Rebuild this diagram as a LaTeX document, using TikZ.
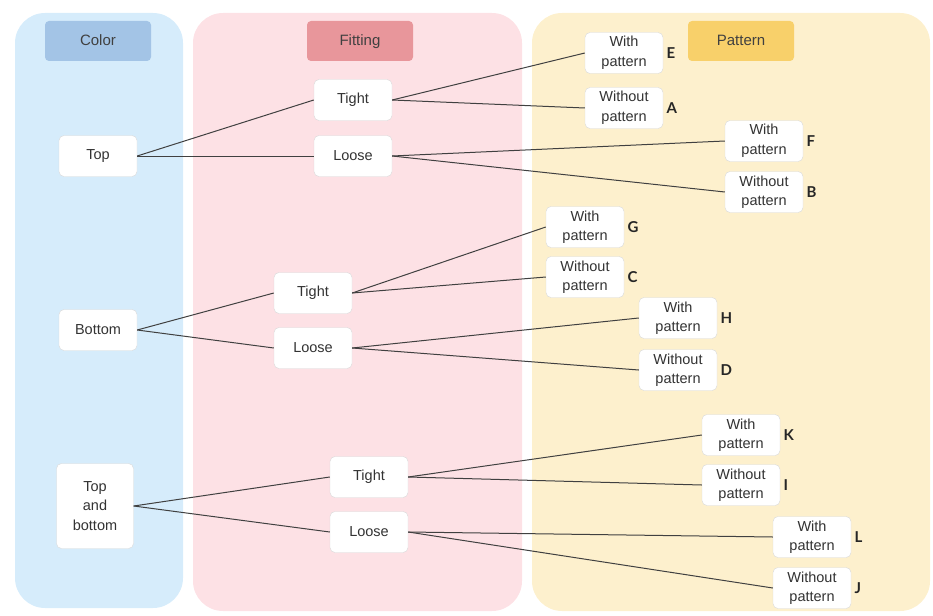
\documentclass[tikz,border=0pt]{standalone}
\usepackage{fontspec}
\setmainfont{Liberation Sans}
\newfontfamily\lblfont{Lato}
\definecolor{colbg}{RGB}{214,236,251}
\definecolor{fitbg}{RGB}{253,225,229}
\definecolor{patbg}{RGB}{253,240,205}
\definecolor{colhd}{RGB}{163,196,230}
\definecolor{fithd}{RGB}{232,150,155}
\definecolor{pathd}{RGB}{248,208,106}

\begin{document}
\begin{tikzpicture}[
  x=1pt, y=-1pt,
  pnl/.style={rounded corners=30pt},
  hdr/.style={rounded corners=4pt, minimum width=106pt, minimum height=40pt,
    text height=10pt, text depth=0pt,
    font=\fontsize{15}{18}\selectfont, text=black!75},
  opt/.style={draw=black!15, fill=white, rounded corners=5pt, minimum width=78pt,
    minimum height=41pt, align=center, inner sep=2pt,
    font=\fontsize{14.5}{19.5}\selectfont, text=black!80},
  pat/.style={opt, label={[label distance=0pt, text=black!85,
    font=\lblfont\bfseries\fontsize{15}{18}\selectfont]right:#1}},
  lnk/.style={draw=black!75, line width=1pt}
]

\useasboundingbox (0,0) rectangle (933,615);

\fill [colbg, pnl] (15,13) rectangle (183,608);
\fill [fitbg, pnl] (193,13) rectangle (522,611);
\fill [patbg, pnl] (532,13) rectangle (930,611);

\node [hdr, fill=colhd] (hcol) at (98,41) {Color};
\node [hdr, fill=fithd] (hfit) at (360,41) {Fitting};
\node [hdr, fill=pathd] (hpat) at (741,41) {Pattern};

\node [opt] (top) at (98,156) {Top};
\node [opt] (bot) at (98,330) {Bottom};
\node [opt, minimum width=77pt, minimum height=85pt] (tab) at (95,506) {Top\\and\\bottom};

\node [opt] (t1) at (353,100) {Tight};
\node [opt] (l1) at (353,156) {Loose};
\node [opt] (t2) at (313,293) {Tight};
\node [opt] (l2) at (313,348) {Loose};
\node [opt] (t3) at (369,477) {Tight};
\node [opt] (l3) at (369,532) {Loose};

\node [pat=E] (pe) at (624,53) {With\\pattern};
\node [pat=A] (pa) at (624,108) {Without\\pattern};
\node [pat=F] (pf) at (764,141) {With\\pattern};
\node [pat=B] (pb) at (764,192) {Without\\pattern};
\node [pat=G] (pg) at (585,227) {With\\pattern};
\node [pat=C] (pc) at (585,277) {Without\\pattern};
\node [pat=H] (ph) at (678,318) {With\\pattern};
\node [pat=D] (pd) at (678,370) {Without\\pattern};
\node [pat=K] (pk) at (741,435) {With\\pattern};
\node [pat=I] (pi) at (741,485) {Without\\pattern};
\node [pat=L] (pl) at (812,537) {With\\pattern};
\node [pat=J] (pj) at (812,588) {Without\\pattern};

\draw [lnk] (top.east) -- (t1.west);
\draw [lnk] (top.east) -- (l1.west);
\draw [lnk] (bot.east) -- (t2.west);
\draw [lnk] (bot.east) -- (l2.west);
\draw [lnk] (tab.east) -- (t3.west);
\draw [lnk] (tab.east) -- (l3.west);

\draw [lnk] (t1.east) -- (pe.west);
\draw [lnk] (t1.east) -- (pa.west);
\draw [lnk] (l1.east) -- (pf.west);
\draw [lnk] (l1.east) -- (pb.west);
\draw [lnk] (t2.east) -- (pg.west);
\draw [lnk] (t2.east) -- (pc.west);
\draw [lnk] (l2.east) -- (ph.west);
\draw [lnk] (l2.east) -- (pd.west);
\draw [lnk] (t3.east) -- (pk.west);
\draw [lnk] (t3.east) -- (pi.west);
\draw [lnk] (l3.east) -- (pl.west);
\draw [lnk] (l3.east) -- (pj.west);

\end{tikzpicture}
\end{document}
